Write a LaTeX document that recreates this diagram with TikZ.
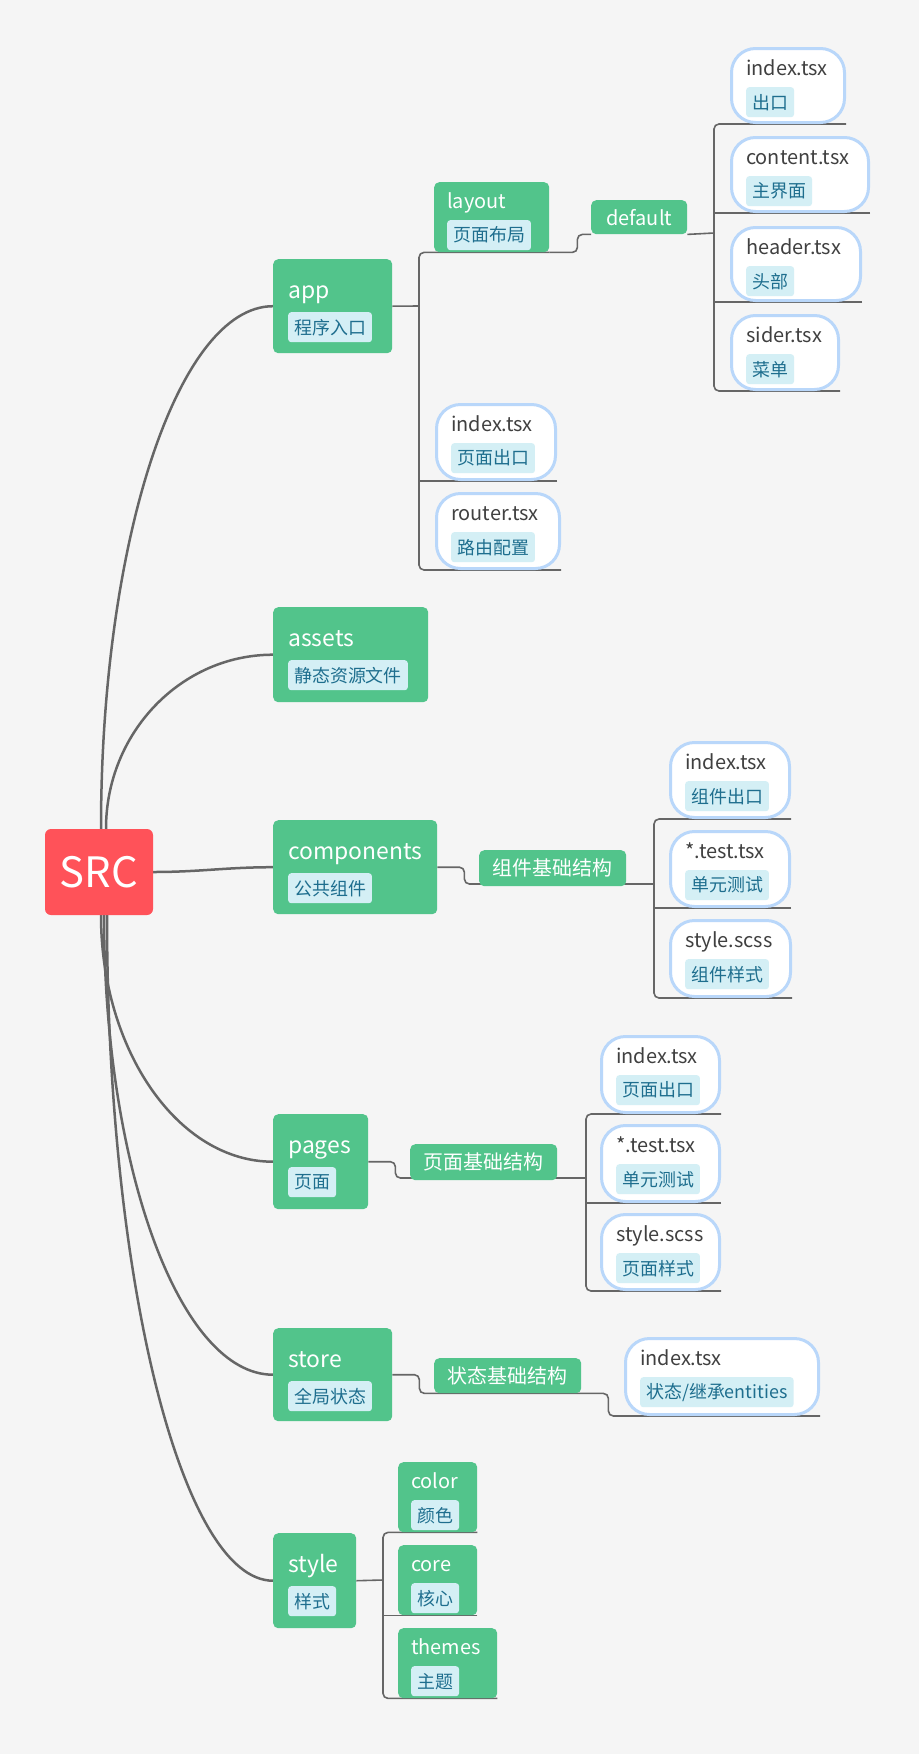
\documentclass[tikz,border=0pt]{standalone}
\usepackage{fontspec}
\setmainfont{Noto Sans CJK SC}
\usepackage{tikz}
\usetikzlibrary{calc}

\definecolor{papergray}{HTML}{F5F5F5}
\definecolor{srcred}{HTML}{FF5259}
\definecolor{topicgreen}{HTML}{52C48B}
\definecolor{tagfill}{HTML}{D4EFF5}
\definecolor{tagtext}{HTML}{1E6E8E}
\definecolor{fileline}{HTML}{B9D7FA}
\definecolor{filetext}{HTML}{404040}
\definecolor{wire}{HTML}{666666}

\pgfdeclarelayer{paper}
\pgfdeclarelayer{wires}
\pgfsetlayers{paper,wires,main}

\tikzset{
  root/.style={fill=srcred,rounded corners=6bp,text=white,inner sep=0,minimum width=108bp,minimum height=86bp,font=\fontsize{42}{46}\selectfont},
  topic/.style={fill=topicgreen,rounded corners=5bp,inner sep=0,anchor=north west},
  plain/.style={topic,text=white,font=\fontsize{20}{24}\selectfont},
  file/.style={fill=white,draw=fileline,line width=3bp,rounded corners=24bp,inner sep=0,anchor=north west},
  head/.style={anchor=base west,inner sep=0,text=white,font=\fontsize{23}{27}\selectfont},
  subhead/.style={head,font=\fontsize{20}{24}\selectfont},
  filehead/.style={subhead,text=filetext},
  tag/.style={anchor=north west,fill=tagfill,text=tagtext,rounded corners=3bp,inner xsep=6bp,inner ysep=0,minimum height=30bp,font=\fontsize{18}{20}\selectfont},
  limb/.style={draw=wire,line width=2.5bp},
  branch/.style={draw=wire,line width=1.6bp,rounded corners=5bp}
}

\begin{document}
\begin{tikzpicture}

\useasboundingbox (0,0) rectangle (919bp,-1754bp);
\begin{pgfonlayer}{paper}
\fill[papergray] (0,0) rectangle (919bp,-1754bp);
\end{pgfonlayer}

% root
\node (src) at (99bp,-872bp)[root] {SRC};

% first level
\node (app) at (273bp,-259bp)[topic,minimum width=119bp,minimum height=94bp] {};
\node (appname) at (288bp,-298bp)[head] {app};
\node (apptag) at (288bp,-312bp)[tag] {程序入口};
\node (assets) at (273bp,-607bp)[topic,minimum width=155bp,minimum height=95bp] {};
\node (assetsname) at (288bp,-646bp)[head] {assets};
\node (assetstag) at (288bp,-660bp)[tag] {静态资源文件};
\node (components) at (273bp,-820bp)[topic,minimum width=164bp,minimum height=94bp] {};
\node (componentsname) at (288bp,-859bp)[head] {components};
\node (componentstag) at (288bp,-873bp)[tag] {公共组件};
\node (pages) at (273bp,-1114bp)[topic,minimum width=95bp,minimum height=95bp] {};
\node (pagesname) at (288bp,-1153bp)[head] {pages};
\node (pagestag) at (288bp,-1167bp)[tag] {页面};
\node (store) at (273bp,-1328bp)[topic,minimum width=119bp,minimum height=93bp] {};
\node (storename) at (288bp,-1367bp)[head] {store};
\node (storetag) at (288bp,-1381bp)[tag] {全局状态};
\node (style) at (273bp,-1533bp)[topic,minimum width=83bp,minimum height=95bp] {};
\node (stylename) at (288bp,-1572bp)[head] {style};
\node (styletag) at (288bp,-1586bp)[tag] {样式};

% app
\node (layout) at (434bp,-182bp)[topic,minimum width=115bp,minimum height=70bp] {};
\node (layoutname) at (447bp,-208bp)[subhead] {layout};
\node (layouttag) at (447bp,-220bp)[tag] {页面布局};
\node (default) at (591bp,-200bp)[plain,minimum width=96bp,minimum height=34bp] {default};
\node (dindex) at (730bp,-47bp)[file,minimum width=113bp,minimum height=74bp] {};
\node (dindexname) at (746bp,-75bp)[filehead] {index.tsx};
\node (dindextag) at (746bp,-87bp)[tag] {出口};
\node (dcontent) at (730bp,-136bp)[file,minimum width=137bp,minimum height=74bp] {};
\node (dcontentname) at (746bp,-164bp)[filehead] {content.tsx};
\node (dcontenttag) at (746bp,-176bp)[tag] {主界面};
\node (dheader) at (730bp,-226bp)[file,minimum width=129bp,minimum height=73bp] {};
\node (dheadername) at (746bp,-254bp)[filehead] {header.tsx};
\node (dheadertag) at (746bp,-266bp)[tag] {头部};
\node (dsider) at (730bp,-314bp)[file,minimum width=107bp,minimum height=74bp] {};
\node (dsidername) at (746bp,-342bp)[filehead] {sider.tsx};
\node (dsidertag) at (746bp,-354bp)[tag] {菜单};
\node (aindex) at (435bp,-403bp)[file,minimum width=119bp,minimum height=75bp] {};
\node (aindexname) at (451bp,-431bp)[filehead] {index.tsx};
\node (aindextag) at (451bp,-443bp)[tag] {页面出口};
\node (arouter) at (435bp,-492bp)[file,minimum width=123bp,minimum height=75bp] {};
\node (aroutername) at (451bp,-520bp)[filehead] {router.tsx};
\node (aroutertag) at (451bp,-532bp)[tag] {路由配置};

% components
\node (cbase) at (479bp,-850bp)[plain,minimum width=147bp,minimum height=36bp] {组件基础结构};
\node (cindex) at (669bp,-741bp)[file,minimum width=119bp,minimum height=75bp] {};
\node (cindexname) at (685bp,-769bp)[filehead] {index.tsx};
\node (cindextag) at (685bp,-781bp)[tag] {组件出口};
\node (ctest) at (669bp,-830bp)[file,minimum width=119bp,minimum height=75bp] {};
\node (ctestname) at (685bp,-858bp)[filehead] {*.test.tsx};
\node (ctesttag) at (685bp,-870bp)[tag] {单元测试};
\node (cstyle) at (669bp,-919bp)[file,minimum width=120bp,minimum height=76bp] {};
\node (cstylename) at (685bp,-947bp)[filehead] {style.scss};
\node (cstyletag) at (685bp,-959bp)[tag] {组件样式};

% pages
\node (pbase) at (410bp,-1144bp)[plain,minimum width=147bp,minimum height=36bp] {页面基础结构};
\node (pindex) at (600bp,-1035bp)[file,minimum width=118bp,minimum height=76bp] {};
\node (pindexname) at (616bp,-1063bp)[filehead] {index.tsx};
\node (pindextag) at (616bp,-1075bp)[tag] {页面出口};
\node (ptest) at (600bp,-1124bp)[file,minimum width=118bp,minimum height=76bp] {};
\node (ptestname) at (616bp,-1152bp)[filehead] {*.test.tsx};
\node (ptesttag) at (616bp,-1164bp)[tag] {单元测试};
\node (pstyle) at (600bp,-1213bp)[file,minimum width=118bp,minimum height=75bp] {};
\node (pstylename) at (616bp,-1241bp)[filehead] {style.scss};
\node (pstyletag) at (616bp,-1253bp)[tag] {页面样式};

% store
\node (sbase) at (434bp,-1358bp)[plain,minimum width=147bp,minimum height=35bp] {状态基础结构};
\node (sindex) at (624bp,-1337bp)[file,minimum width=193bp,minimum height=76bp] {};
\node (sindexname) at (640bp,-1365bp)[filehead] {index.tsx};
\node (sindextag) at (640bp,-1377bp)[tag] {状态/继承entities};

% style
\node (color) at (398bp,-1462bp)[topic,minimum width=79bp,minimum height=70bp] {};
\node (colorname) at (411bp,-1488bp)[subhead] {color};
\node (colortag) at (411bp,-1500bp)[tag] {颜色};
\node (core) at (398bp,-1545bp)[topic,minimum width=79bp,minimum height=70bp] {};
\node (corename) at (411bp,-1571bp)[subhead] {core};
\node (coretag) at (411bp,-1583bp)[tag] {核心};
\node (themes) at (398bp,-1628bp)[topic,minimum width=99bp,minimum height=70bp] {};
\node (themesname) at (411bp,-1654bp)[subhead] {themes};
\node (themestag) at (411bp,-1666bp)[tag] {主题};

\coordinate (atrunk) at (419bp,-306bp);
\coordinate (dtrunk) at (714bp,-233bp);
\coordinate (ctrunk) at (654bp,-884bp);
\coordinate (ptrunk) at (586bp,-1178bp);
\coordinate (strunk) at (383bp,-1580bp);

\begin{pgfonlayer}{wires}
% curves out of the root
\draw[limb] ([xshift=2bp]src.north) .. controls +(0,288bp) and +(-95bp,0) .. (app.west);
\draw[limb] ([xshift=7bp]src.north) .. controls +(0,96bp) and +(-92bp,0) .. (assets.west);
\draw[limb] (src.east) to[out=0,in=180] (components.west);
\draw[limb] ([xshift=2bp]src.south) .. controls +(0,-135bp) and +(-95bp,0) .. (pages.west);
\draw[limb] ([xshift=5bp]src.south) .. controls +(0,-253bp) and +(-93bp,0) .. (store.west);
\draw[limb] ([xshift=8bp]src.south) .. controls +(0,-366bp) and +(-91bp,0) .. (style.west);

% app
\draw[branch] (app.east) -- (atrunk);
\draw[branch] (layout.south east) -| (atrunk) |- (arouter.south east);
\draw[branch] (aindex.south east) -- (aindex.south east -| atrunk);
\draw[branch] (layout.south east) -- ++(28bp,0) |- (default.south west);
\draw[branch] (default.south east) -- (dtrunk);
\draw[branch] (dindex.south east) -| (dtrunk) |- (dsider.south east);
\draw[branch] (dcontent.south east) -- (dcontent.south east -| dtrunk);
\draw[branch] (dheader.south east) -- (dheader.south east -| dtrunk);

% components
\draw[branch] (components.east) -- ++(27bp,0) |- (ctrunk);
\draw[branch] (cindex.south east) -| (ctrunk) |- (cstyle.south east);
\draw[branch] (ctest.south east) -- (ctest.south east -| ctrunk);

% pages
\draw[branch] (pages.east) -- ++(27bp,0) |- (ptrunk);
\draw[branch] (pindex.south east) -| (ptrunk) |- (pstyle.south east);
\draw[branch] (ptest.south east) -- (ptest.south east -| ptrunk);

% store
\draw[branch] (store.east) -- ++(27bp,0) |- ($(sbase.south east)+(27bp,0)$) |- (sindex.south east);

% style
\draw[branch] (style.east) -- (strunk);
\draw[branch] (color.south east) -| (strunk) |- (themes.south east);
\draw[branch] (core.south east) -- (core.south east -| strunk);
\end{pgfonlayer}

\end{tikzpicture}
\end{document}
